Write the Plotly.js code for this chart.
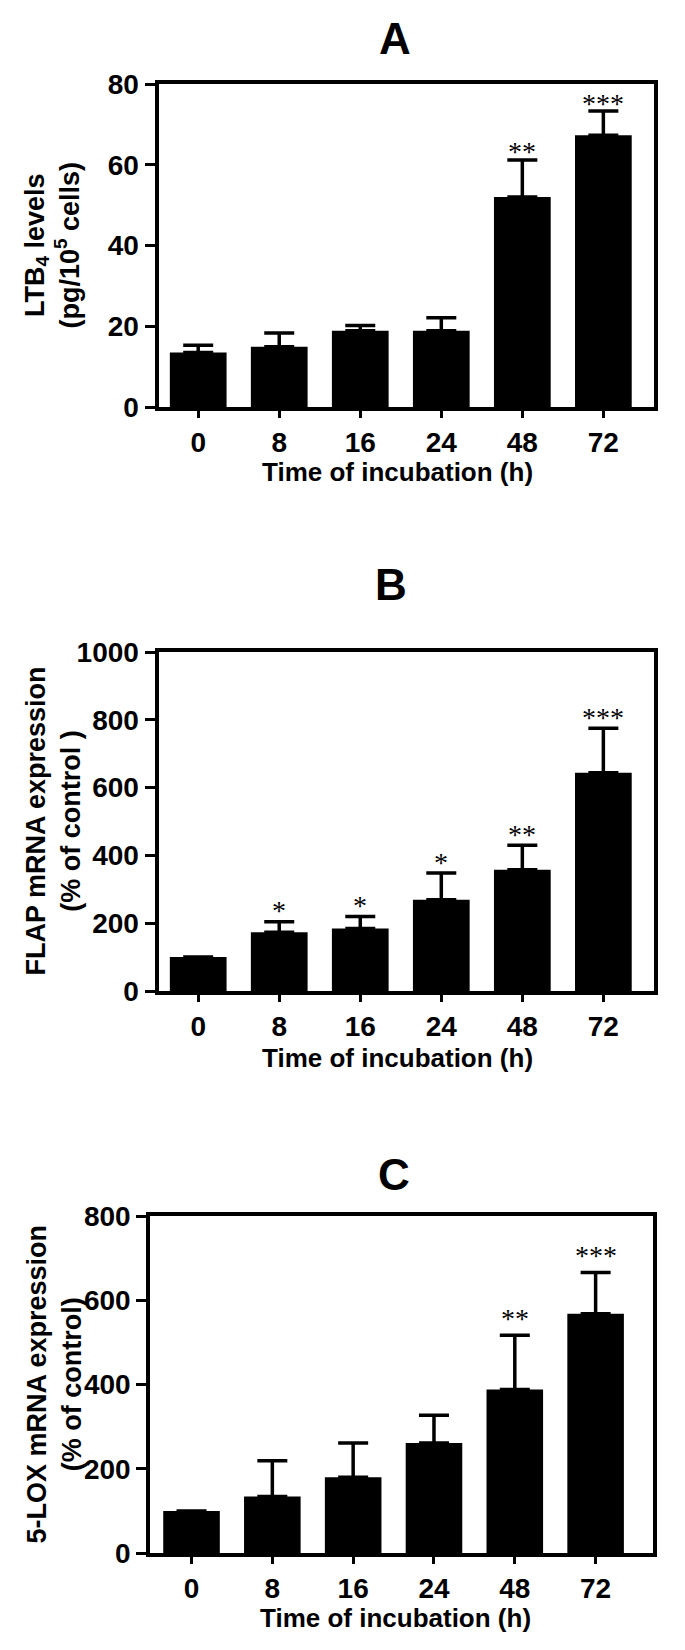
<!DOCTYPE html>
<html>
<head>
<meta charset="utf-8">
<script src="https://cdn.plot.ly/plotly-3.0.1.min.js"></script>
<style>html,body{margin:0;padding:0;background:#fff;}#chart{width:685px;height:1650px;}</style>
</head>
<body>
<div id="chart"></div>
<script>
// ---- data ----
const hours = ['0', '8', '16', '24', '48', '72'];

const ltbMean = [13.5, 14.9, 18.9, 18.9, 52.0, 67.3];
const ltbErr  = [1.8, 3.4, 1.3, 3.2, 9.2, 6.0];
const ltbSig  = ['', '', '', '', '**', '***'];

const flapMean = [100, 173, 184, 269, 358, 644];
const flapErr  = [0, 31, 36, 79, 72, 131];
const flapSig  = ['', '*', '*', '*', '**', '***'];

const loxMean = [100, 134, 180, 261, 388, 568];
const loxErr  = [0, 85, 81, 66, 129, 98];
const loxSig  = ['', '', '', '', '**', '***'];

// ---- layout helpers ----
const W = 685, H = 1650;
const px = v => v / W;
const py = v => 1 - v / H;
const SANS = 'Liberation Sans, Arial, Helvetica, sans-serif';
const SERIF = 'Liberation Serif, Times New Roman, serif';

const panels = [
  {mean: ltbMean, err: ltbErr, sig: ltbSig, yr: [0, 80], dtick: 20,
   left: 158.5, right: 654, top: 84, bottom: 407, xr: [-0.49, 5.625],
   letter: 'A', letterPos: [395, 38], xtitleY: 472, xtitleX: 397, ytitleX: 52,
   ytitle: 'LTB<sub>4</sub> levels<br>(pg/10<sup>5</sup> cells)', starShift: 8},
  {mean: flapMean, err: flapErr, sig: flapSig, yr: [0, 1000], dtick: 200,
   left: 158.5, right: 654, top: 652, bottom: 991, xr: [-0.49, 5.625],
   letter: 'B', letterPos: [391, 585], xtitleY: 1058, xtitleX: 397, ytitleX: 53,
   ytitle: 'FLAP mRNA expression<br>(% of control )', starShift: 11},
  {mean: loxMean, err: loxErr, sig: loxSig, yr: [0, 800], dtick: 200,
   left: 150.3, right: 653, top: 1216, bottom: 1553, xr: [-0.51, 5.71],
   letter: 'C', letterPos: [394, 1174], xtitleY: 1618, xtitleX: 395, ytitleX: 54,
   ytitle: '5-LOX mRNA expression<br>(% of control)', starShift: 17}
];

const traces = [];
const annotations = [];
const layout = {
  width: W, height: H,
  margin: {l: 0, r: 0, t: 0, b: 0},
  paper_bgcolor: '#fff', plot_bgcolor: '#fff',
  showlegend: false,
  font: {family: SANS, color: '#000'},
  annotations: annotations
};

panels.forEach((p, i) => {
  const n = i === 0 ? '' : String(i + 1);
  const xa = 'x' + n, ya = 'y' + n;
  traces.push({
    type: 'bar', x: hours, y: p.mean, xaxis: xa, yaxis: ya,
    width: 0.7,
    marker: {color: '#000', line: {width: 0}},
    error_y: {type: 'data', symmetric: false, array: p.err,
              arrayminus: p.err.map(() => 0),
              color: '#000', thickness: 3.5, width: 15, visible: true},
    hoverinfo: 'none'
  });
  const axCommon = {
    showline: true, linewidth: 4, linecolor: '#000', mirror: true,
    ticks: 'outside', tickwidth: 3, tickcolor: '#000',
    showgrid: false, zeroline: false, fixedrange: true,
    tickfont: {family: SANS, size: 28, color: '#000', weight: 'bold'}
  };
  layout['xaxis' + n] = Object.assign({}, axCommon, {
    domain: [px(p.left), px(p.right)], anchor: ya, type: 'category',
    range: p.xr, ticklen: 7
  });
  layout['yaxis' + n] = Object.assign({}, axCommon, {
    domain: [py(p.bottom), py(p.top)], anchor: xa,
    range: p.yr, dtick: p.dtick, ticklen: 10
  });
  // significance marks (x given as category index)
  p.sig.forEach((s, k) => {
    if (!s) return;
    annotations.push({
      xref: xa, yref: ya, x: k, y: p.mean[k] + p.err[k],
      text: s, showarrow: false, xanchor: 'center', yanchor: 'middle',
      yshift: p.starShift,
      font: {family: SERIF, size: 28, color: '#000'}
    });
  });
  // panel letter
  annotations.push({
    xref: 'paper', yref: 'paper', x: px(p.letterPos[0]), y: py(p.letterPos[1]),
    text: '<b>' + p.letter + '</b>', showarrow: false,
    xanchor: 'center', yanchor: 'middle',
    font: {family: SANS, size: 44, color: '#000'}
  });
  // x title
  annotations.push({
    xref: 'paper', yref: 'paper', x: px(p.xtitleX), y: py(p.xtitleY),
    text: '<b>Time of incubation (h)</b>', showarrow: false,
    xanchor: 'center', yanchor: 'middle',
    font: {family: SANS, size: 26, color: '#000'}
  });
  // y title
  annotations.push({
    xref: 'paper', yref: 'paper', x: px(p.ytitleX), y: py((p.top + p.bottom) / 2),
    text: '<b>' + p.ytitle + '</b>', showarrow: false, textangle: -90,
    xanchor: 'center', yanchor: 'middle',
    font: {family: SANS, size: 27, color: '#000'}
  });
});

Plotly.newPlot('chart', traces, layout, {displayModeBar: false, staticPlot: true});
</script>
</body>
</html>
